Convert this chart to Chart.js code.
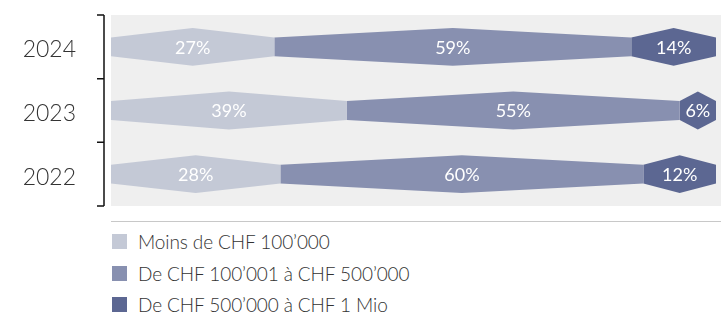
<!DOCTYPE html>
<html>
<head>
<meta charset="utf-8">
<script src="https://cdn.jsdelivr.net/npm/chart.js@4.4.1/dist/chart.umd.min.js"></script>
<style>
  body { margin: 0; background: #fff; font-family: "Lato", sans-serif; }
  #wrap { position: relative; width: 721px; height: 314px; }
  #chartBox { position: absolute; left: 0; top: 0; width: 721px; height: 224px; }
  #legend { position: absolute; left: 112px; top: 226px; }
  .item { display: flex; align-items: center; height: 31.5px; font-size: 19px; font-weight: 300; color: #333; letter-spacing: -0.1px; }
  .box { width: 15px; height: 15px; margin-right: 11px; }
</style>
</head>
<body>
<div id="wrap">
  <div id="chartBox"><canvas id="chart"></canvas></div>
  <div id="legend"></div>
</div>
<script>
// ================= DATA =================

const years = ["2024", "2023", "2022"];
const seriesNames = [
  "Moins de CHF 100’000",
  "De CHF 100’001 à CHF 500’000",
  "De CHF 500’000 à CHF 1 Mio"
];
const lowShare = [27, 39, 28];
const midShare = [59, 55, 60];
const highShare = [14, 6, 12];
const colors = ["#c4c9d6", "#8890b0", "#5c6792"];

// ================= PLUGINS =================

// grey panel behind the bars + separator line above the legend
const panel = {
  id: "panel",
  beforeDraw(chart) {
    const { ctx, chartArea } = chart;
    ctx.save();
    ctx.fillStyle = "#efefef";
    ctx.fillRect(chartArea.left, chartArea.top, chart.width - chartArea.left, chartArea.bottom - chartArea.top);
    ctx.strokeStyle = "#c8c8c8";
    ctx.lineWidth = 1;
    ctx.beginPath();
    ctx.moveTo(chartArea.left, chart.height - 2.5);
    ctx.lineTo(chart.width, chart.height - 2.5);
    ctx.stroke();
    ctx.restore();
  },
  afterDraw(chart) {
    // bracket-shaped axis to the left of the panel
    const { ctx, chartArea } = chart;
    const y = chart.scales.y;
    const x0 = chartArea.left - 7;
    const step = y.getPixelForValue(1) - y.getPixelForValue(0);
    ctx.save();
    ctx.strokeStyle = "#111";
    ctx.lineWidth = 1.5;
    ctx.beginPath();
    ctx.moveTo(x0, chartArea.top);
    ctx.lineTo(x0, chartArea.bottom);
    for (let i = 0; i <= years.length; i++) {
      const py = y.getPixelForValue(0) - step / 2 + i * step;
      ctx.moveTo(x0, py);
      ctx.lineTo(x0 - 7, py);
    }
    ctx.stroke();
    ctx.restore();
  }
};

// hexagon-shaped segments instead of plain rectangles
const hexBars = {
  id: "hexBars",
  beforeDatasetDraw(chart, args) {
    const { ctx } = chart;
    const ds = chart.data.datasets[args.index];
    ctx.save();
    ctx.fillStyle = ds.backgroundColor;
    args.meta.data.forEach(el => {
      const { x, y, base, height } = el.getProps(["x", "y", "base", "height"], true);
      const h2 = height / 2, h1 = height / 4, mid = (x + base) / 2;
      ctx.beginPath();
      ctx.moveTo(base, y - h1);
      ctx.lineTo(mid, y - h2);
      ctx.lineTo(x, y - h1);
      ctx.lineTo(x, y + h1);
      ctx.lineTo(mid, y + h2);
      ctx.lineTo(base, y + h1);
      ctx.closePath();
      ctx.fill();
    });
    ctx.restore();
    return false;
  },
  afterDatasetsDraw(chart) {
    const { ctx } = chart;
    ctx.save();
    ctx.fillStyle = "#fff";
    ctx.font = "400 18px Lato";
    ctx.textAlign = "center";
    ctx.textBaseline = "middle";
    chart.data.datasets.forEach((ds, i) => {
      chart.getDatasetMeta(i).data.forEach((el, j) => {
        const { x, y, base } = el.getProps(["x", "y", "base"], true);
        ctx.fillText(ds.data[j] + "%", (x + base) / 2, y + 1);
      });
    });
    ctx.restore();
  }
};

// ================= CHART =================

const shares = [lowShare, midShare, highShare];

new Chart(document.getElementById("chart"), {
  type: "bar",
  data: {
    labels: years,
    datasets: seriesNames.map((name, i) => ({
      label: name,
      data: shares[i],
      backgroundColor: colors[i],
      categoryPercentage: 1,
      barPercentage: 0.594
    }))
  },
  options: {
    indexAxis: "y",
    responsive: true,
    maintainAspectRatio: false,
    animation: false,
    layout: { padding: { top: 15, right: 5, bottom: 18, left: 0 } },
    plugins: { legend: { display: false }, tooltip: { enabled: false } },
    scales: {
      x: { stacked: true, min: 0, max: 100, display: false },
      y: {
        stacked: true,
        grid: { display: false },
        border: { display: false },
        ticks: {
          padding: 27,
          labelOffset: 3,
          color: "#333",
          font: { family: "Lato", size: 23, weight: 300 }
        },
        afterFit(scale) {
          scale.width = 111;
          scale.paddingTop = 0;
          scale.paddingBottom = 0;
        }
      }
    }
  },
  plugins: [panel, hexBars]
});

// ================= LEGEND =================

document.getElementById("legend").innerHTML = seriesNames
  .map((n, i) => `<div class="item"><span class="box" style="background:${colors[i]}"></span>${n}</div>`)
  .join("");
</script>
</body>
</html>
